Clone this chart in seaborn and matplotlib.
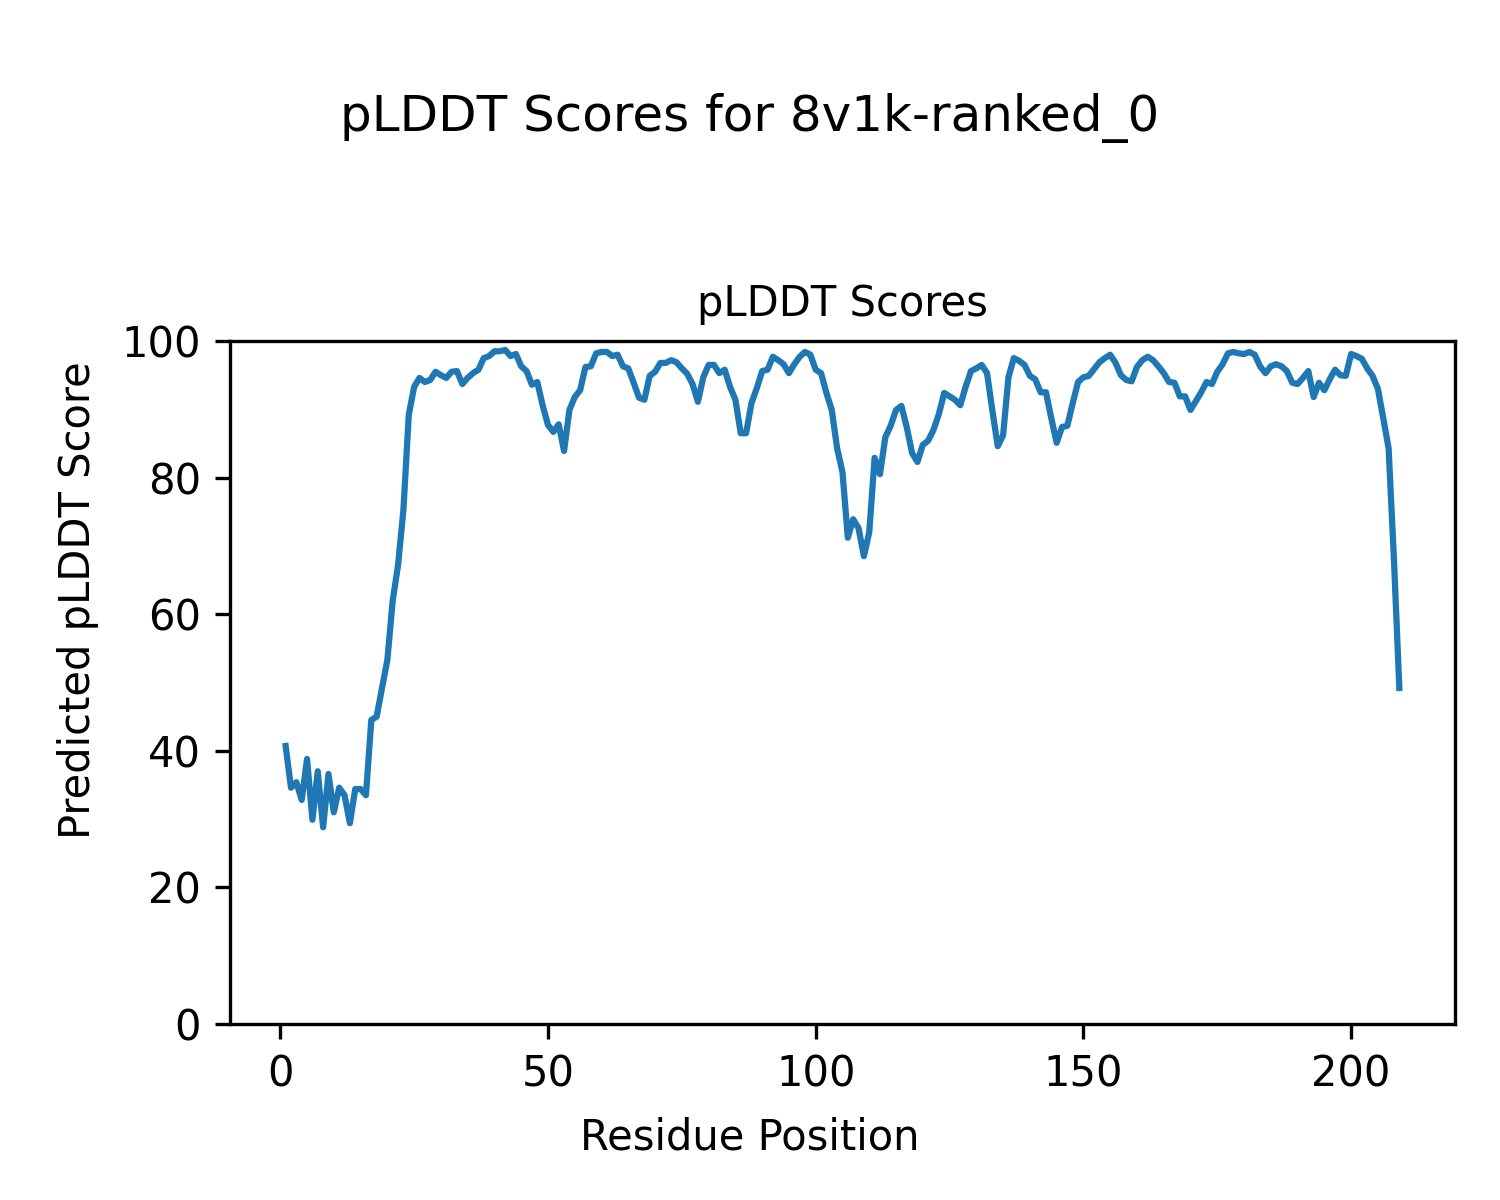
import pandas as pd
import matplotlib
matplotlib.use("Agg")
import matplotlib.pyplot as plt
import seaborn as sns

# pLDDT por resíduo
residuos = list(range(1, 210))
plddt = [
    40.7, 34.6, 35.4, 32.8, 38.8, 29.9, 37.0, 28.8, 36.6, 31.0,
    34.6, 33.5, 29.4, 34.4, 34.4, 33.5, 44.5, 45.0, 49.2, 53.3,
    62.0, 67.2, 75.3, 89.2, 93.3, 94.6, 94.0, 94.3, 95.5, 95.0,
    94.6, 95.5, 95.6, 93.7, 94.6, 95.3, 95.8, 97.5, 97.8, 98.5,
    98.5, 98.7, 97.8, 98.1, 96.3, 95.6, 93.6, 94.0, 90.6, 87.7,
    86.7, 87.8, 83.9, 89.9, 91.8, 92.8, 96.2, 96.3, 98.2, 98.4,
    98.4, 97.8, 98.0, 96.3, 96.0, 93.9, 91.7, 91.4, 94.9, 95.5,
    96.8, 96.8, 97.2, 96.9, 96.0, 95.2, 93.7, 91.1, 94.7, 96.5,
    96.5, 95.3, 95.8, 93.3, 91.4, 86.5, 86.5, 90.9, 93.1, 95.6,
    95.8, 97.7, 97.2, 96.6, 95.3, 96.6, 97.7, 98.4, 98.0, 95.8,
    95.3, 92.4, 89.9, 84.3, 80.8, 71.2, 73.9, 72.6, 68.5, 72.0,
    82.9, 80.5, 85.9, 87.6, 89.9, 90.5, 87.4, 83.6, 82.3, 84.8,
    85.4, 87.0, 89.3, 92.4, 91.9, 91.4, 90.6, 93.3, 95.6, 96.0,
    96.5, 95.3, 89.8, 84.6, 86.2, 94.7, 97.5, 97.1, 96.5, 94.9,
    94.4, 92.5, 92.5, 88.7, 85.1, 87.4, 87.6, 90.9, 94.0, 94.7,
    94.9, 95.9, 96.9, 97.5, 98.0, 96.8, 95.0, 94.3, 94.1, 96.2,
    97.2, 97.7, 97.2, 96.3, 95.3, 94.0, 93.9, 91.9, 91.9, 89.9,
    91.2, 92.5, 94.0, 93.7, 95.5, 96.6, 98.2, 98.4, 98.2, 98.1,
    98.4, 98.0, 96.3, 95.3, 96.3, 96.6, 96.3, 95.6, 93.9, 93.7,
    94.6, 95.6, 91.8, 93.9, 92.8, 94.4, 95.8, 95.0, 94.9, 98.1,
    97.8, 97.4, 96.0, 94.9, 93.0, 88.7, 84.3, 68.0, 49.2,
]

df = pd.DataFrame({'residuo': residuos, 'plddt': plddt})

fig, ax = plt.subplots(figsize=(5, 4), dpi=300)
fig.subplots_adjust(left=0.1533, right=0.97, top=0.7158, bottom=0.1467)

sns.lineplot(data=df, x='residuo', y='plddt', ax=ax, color='#1f77b4', linewidth=1.5)

ax.set_ylim(0, 100)
ax.set_title('pLDDT Scores', fontsize=10)
ax.set_xlabel('')
ax.set_ylabel('')

# rótulos no nível da figura (centrados na figura)
fig.supxlabel('Residue Position', fontsize=10, y=0.0517, va='center')
fig.supylabel('Predicted pLDDT Score', fontsize=10, x=0.052, ha='center')
fig.suptitle('pLDDT Scores for 8v1k-ranked_0', fontsize=12, y=0.9017, va='center')

fig.savefig('out.png', dpi=300)
